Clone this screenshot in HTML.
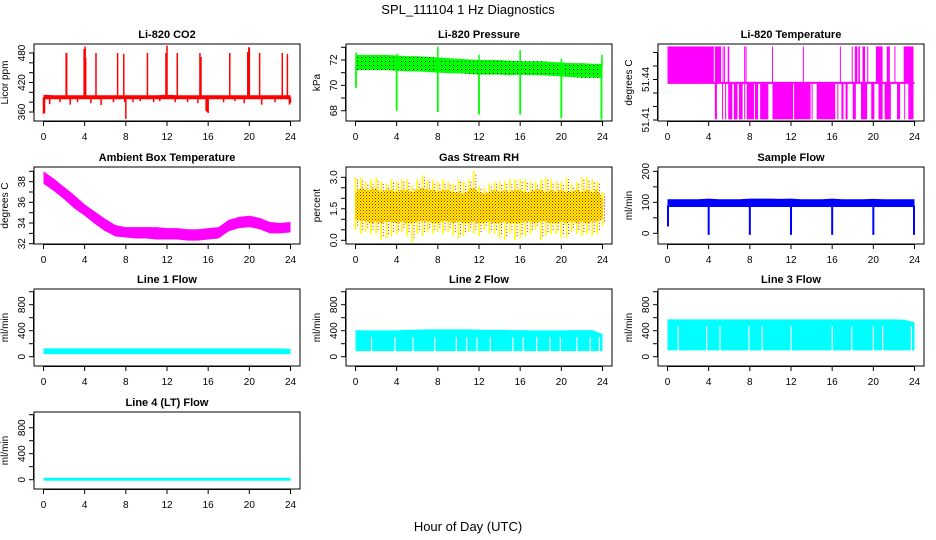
<!DOCTYPE html>
<html><head><meta charset="utf-8"><style>
html,body{margin:0;padding:0;background:#fff;}
svg{display:block;font-family:"Liberation Sans",Arial,sans-serif;}
</style></head><body>
<svg id="chart" width="936" height="540" viewBox="0 0 936 540" xmlns="http://www.w3.org/2000/svg">
<defs>
<pattern id="pdots" width="4" height="4" patternUnits="userSpaceOnUse"><rect width="4" height="4" fill="#00ff00"/><rect x="1" y="1" width="1" height="1" fill="#000"/></pattern>
<pattern id="rdots" width="3" height="3" patternUnits="userSpaceOnUse"><rect width="3" height="3" fill="#ffff00"/><rect x="0" y="0" width="1" height="1" fill="#ff0000"/><rect x="1.5" y="1.5" width="1" height="1" fill="#ff0000"/></pattern>
</defs>
<text x="468" y="14" text-anchor="middle" font-size="13">SPL_111104  1 Hz Diagnostics</text>
<text x="468" y="531" text-anchor="middle" font-size="13">Hour of Day (UTC)</text>
</svg>
<script>
// ---------- data ----------
const xTicks = [0,4,8,12,16,20,24];
const hours = [0,1,2,3,4,5,6,7,8,9,10,11,12,13,14,15,16,17,18,19,20,21,22,23,24];

const co2Lo = [386,386,386,386,386,386,386,386,386,386,386,386,386,386,386,386,386,386,386,386,386,386,386,386,386];
const co2Hi = [395,394,394,394,394,394,394,394,394,394,394,394,395,394,394,394,394,394,394,394,394,394,394,394,394];
const co2SpikeHours = [2.2,2.25,3.95,4.05,4.1,5.1,7.2,7.8,10.1,11.9,12.0,13.0,15.2,15.3,18.1,19.85,19.95,20.0,21.0,23.2,23.7];
const co2SpikeVals = [480,480,488,493,470,480,480,478,480,480,495,480,480,472,480,482,492,490,480,480,478];
const co2DipHours = [0.0,0.1,0.6,1.6,2.6,3.3,4.6,5.6,6.8,7.9,8.0,8.7,9.4,10.7,11.3,12.8,14.0,15.0,15.8,15.9,16.0,17.5,18.6,19.5,21.2,22.5,23.9,24.0];
const co2DipVals = [356,358,376,380,375,380,378,374,380,380,346,380,382,380,382,380,380,378,362,360,358,380,382,378,375,380,375,378];

const presHi = [72.4,72.4,72.4,72.4,72.35,72.3,72.3,72.25,72.2,72.15,72.1,72.05,72.0,72.0,72.0,71.95,71.9,71.9,71.9,71.85,71.8,71.75,71.75,71.7,71.7];
const presLo = [71.2,71.2,71.2,71.2,71.15,71.1,71.1,71.05,71.0,70.95,70.95,70.9,70.85,70.85,70.85,70.8,70.85,70.8,70.8,70.75,70.7,70.65,70.6,70.6,70.6];
const presDipHours = [0.05,4.0,8.0,12.0,16.0,20.0,23.9];
const presDipVals = [69.8,68.0,67.9,67.7,67.7,67.4,67.3];
const presUpHours = [0.05,4.05,8.0,12.0,16.0,20.0,23.95];
const presUpVals = [72.6,72.5,73.05,72.4,72.8,72.1,72.4];

const tempLevels = [51.4105,51.4375,51.4645];
const tempUpStart = [0.0,4.6,5.35,5.5,5.85,7.45,7.58,10.15,13.15,16.75,17.9,18.2,18.55,18.95,19.4,20.25,21.3,22.05,22.95];
const tempUpEnd   = [4.5,5.2,5.42,5.57,6.0,7.5,7.65,10.2,13.2,16.8,17.95,18.45,18.7,19.2,19.5,20.9,21.6,22.1,23.9];
const tempDnStart = [4.6,5.3,5.6,5.9,6.45,6.95,7.45,7.7,8.5,9.0,10.2,12.3,14.0,14.5,16.5,16.9,17.3,18.0,18.8,19.8,20.5,21.1,22.3,23.0,23.4];
const tempDnEnd   = [4.8,5.35,5.7,6.3,6.8,7.3,7.55,8.4,8.8,9.8,12.2,13.9,14.1,16.3,16.6,17.1,17.5,18.3,19.4,20.1,20.9,21.7,22.6,23.1,23.9];

const ambHi = [39.0,38.3,37.5,36.7,35.8,35.1,34.4,33.8,33.6,33.6,33.6,33.6,33.5,33.5,33.4,33.4,33.5,33.6,34.3,34.6,34.7,34.5,34.1,34.0,34.1];
const ambLo = [37.8,37.1,36.3,35.4,34.7,33.9,33.2,32.7,32.6,32.5,32.5,32.4,32.4,32.4,32.3,32.3,32.4,32.5,33.2,33.5,33.6,33.4,33.0,33.0,33.1];

const rhHours = [0,0.5,1,1.5,2,2.5,3,3.5,4,4.5,5,5.5,6,6.5,7,7.5,8,8.5,9,9.5,10,10.5,11,11.5,12,12.5,13,13.5,14,14.5,15,15.5,16,16.5,17,17.5,18,18.5,19,19.5,20,20.5,21,21.5,22,22.5,23,23.5,24];
const rhBodyHi = [2.3,2.5,2.4,2.4,2.5,2.3,2.4,2.4,2.3,2.4,2.4,2.3,2.4,2.5,2.4,2.4,2.3,2.4,2.4,2.3,2.3,2.2,2.4,2.5,2.3,2.2,2.3,2.4,2.3,2.4,2.3,2.4,2.4,2.3,2.3,2.4,2.4,2.3,2.4,2.3,2.4,2.3,2.3,2.4,2.3,2.4,2.3,2.4,2.0];
const rhBodyLo = [1.0,0.9,0.9,0.8,0.9,0.8,0.9,0.9,0.8,0.9,0.8,0.8,0.9,0.9,0.9,0.8,0.8,0.9,0.9,0.8,0.9,0.8,0.8,0.9,0.8,0.8,0.9,0.8,0.8,0.9,0.8,0.8,0.8,0.9,0.9,0.8,0.9,0.9,0.8,0.8,0.9,0.8,0.9,0.8,0.9,0.8,0.9,0.9,1.0];
const rhTop = [3.0,3.0,2.8,2.9,3.0,2.8,2.7,2.9,2.8,2.9,2.9,2.6,2.9,3.1,2.9,2.9,2.8,2.9,2.8,2.7,2.9,2.8,2.9,3.3,2.6,2.5,2.7,2.8,2.8,2.8,2.9,2.9,2.9,2.9,2.8,2.8,2.9,3.0,2.9,2.8,2.8,3.0,2.7,2.8,3.0,3.0,2.9,2.8,2.3];
const rhBot = [0.5,0.3,0.4,0.3,0.3,0.0,0.1,0.2,0.3,0.4,0.2,-0.1,0.3,0.2,0.4,0.3,0.4,0.3,0.4,0.2,0.1,0.2,0.4,0.3,0.2,0.5,0.3,0.3,0.1,0.0,0.3,0.0,0.1,0.2,0.3,0.5,0.0,0.2,0.3,0.3,0.1,0.1,0.4,0.3,0.2,0.3,0.2,0.3,0.7];

const sampHi = [110,110,110,110,112,110,110,110,112,112,112,111,112,110,110,110,112,110,110,110,111,110,110,110,110];
const sampLo = [85,85,85,85,85,85,85,85,85,85,85,85,85,85,85,85,85,85,85,85,85,85,85,85,85];
const sampDipHours = [0.05,4.0,8.0,12.0,16.0,20.0,23.95];
const sampDipVals = [22,-5,-5,-5,-5,-5,-5];

const l1Hi = [128,128,128,128,128,128,128,128,128,128,128,128,128,128,128,128,128,128,128,128,128,128,128,128,120];
const l1Lo = [40,40,40,40,40,40,40,40,40,40,40,40,40,40,40,40,40,40,40,40,40,40,40,40,40];
const l2Hi = [410,405,405,405,405,415,415,420,420,420,420,420,415,415,415,410,410,405,405,405,405,410,410,410,350];
const l2Lo = [86,86,86,86,86,86,86,86,86,86,86,86,86,86,86,86,86,86,86,86,86,86,86,86,86];
const l2GapHours = [1.56,3.83,5.6,7.7,9.8,10.8,11.8,13.1,15.3,16.3,17.6,18.9,19.9,21.5,22.8,23.7];
const l2GapTop = 300;
const l3Hi = [574,574,574,574,574,574,574,574,574,574,574,574,574,574,574,574,574,574,574,574,574,574,574,570,530];
const l3Lo = [97,97,97,97,97,97,97,97,97,97,97,97,97,97,97,97,97,97,97,97,97,97,97,97,97];
const l3GapHours = [1.04,3.8,5.1,7.9,9.2,12.0,16.0,17.9,20.0,20.9,23.7];
const l3GapTop = 470;
const l4Val = [8,8,8,8,8,8,8,8,8,8,8,8,8,8,8,8,8,8,8,8,8,8,8,8,8];

// ---------- layout ----------
const NS = 'http://www.w3.org/2000/svg';
const svg = document.getElementById('chart');
const colLeft = [34,346,658], rowTop = [44,167,289,412], PW = 266, PH = 77;
function mk(tag, attrs, parent){ const e=document.createElementNS(NS,tag); for(const k in attrs) e.setAttribute(k,attrs[k]); (parent||svg).appendChild(e); return e; }
const yLabelFmt = {rh:1, litemp:2};

function panel(name, title, col, row, ylim, yTicks, yLabels, ylab){
  const L=colLeft[col], T=rowTop[row];
  const g = mk('g',{});
  
  
  const xs = h => L + 9.5 + h*(247/24);
  const ys = v => T + PH - (v-ylim[0])/(ylim[1]-ylim[0])*PH;
  const plot = mk('g',{},g);
  
  
  const clip = mk('clipPath',{id:'c'+name},g);
  mk('rect',{x:L,y:T,width:PW,height:PH},clip);
  plot.setAttribute('clip-path','url(#c'+name+')');
  const box = mk('rect',{x:L,y:T,width:PW,height:PH,fill:'none',stroke:'#000','stroke-width':1},g);
  
  
  const t = mk('text',{x:L+PW/2,y:T-6,'text-anchor':'middle','font-size':11,'font-weight':'bold'},g);
  t.textContent = title;
  
  
  const xa = mk('g',{stroke:'#000','stroke-width':1},g);
  
  
  mk('line',{x1:xs(0),x2:xs(24),y1:T+PH+0.5,y2:T+PH+0.5},xa);
  xTicks.forEach(h=>{
    mk('line',{x1:xs(h),x2:xs(h),y1:T+PH,y2:T+PH+5},xa);
    const tl = mk('text',{x:xs(h),y:T+PH+19,'text-anchor':'middle','font-size':10,stroke:'none'},g);
    tl.textContent = h;
    
    
  });
  const ya = mk('g',{stroke:'#000','stroke-width':1},g);
  
  
  mk('line',{x1:L-0.5,x2:L-0.5,y1:ys(yTicks[0]),y2:ys(yTicks[yTicks.length-1])},ya);
  yTicks.forEach(v=>{ mk('line',{x1:L-5,x2:L,y1:ys(v),y2:ys(v)},ya); });
  yLabels.forEach(v=>{
    const y=ys(v), x=L-9;
    const tl = mk('text',{x:x,y:y,'text-anchor':'middle','font-size':10,transform:'rotate(-90 '+x+' '+y+')'},g);
    tl.textContent = yLabelFmt[name] ? v.toFixed(yLabelFmt[name]) : v;
    
    
  });
  const ax = L-26, ay = T+PH/2;
  const yl = mk('text',{x:ax,y:ay,'text-anchor':'middle','font-size':10,transform:'rotate(-90 '+ax+' '+ay+')'},g);
  yl.textContent = ylab;
  
  
  return {plot, xs, ys};
}

function band(p, hs, lo, hi, fill){
  let d='M'+hs.map((h,i)=>p.xs(h)+','+p.ys(hi[i])).join(' L');
  d+=' L'+hs.slice().reverse().map((h,j)=>{const i=hs.length-1-j; return p.xs(h)+','+p.ys(lo[i]);}).join(' L')+' Z';
  const e = mk('path',{d:d,fill:fill,stroke:'none'},p.plot);
  
  
  return e;
}
function vlines(p, hs, from, to, color, w){
  hs.forEach((h,i)=>{
    const f = Array.isArray(from)?from[i]:from;
    const e = mk('line',{x1:p.xs(h),x2:p.xs(h),y1:p.ys(f),y2:p.ys(to[i]),stroke:color,'stroke-width':w||1.5},p.plot);
    
    
  });
}

// CO2
(function(){
  const p = panel('co2','Li-820 CO2',0,0,[341.7,498.3],[360,380,400,420,440,460,480],[360,420,480],'Licor ppm');
  band(p,hours,co2Lo,co2Hi,'#ff0000');
  vlines(p,co2SpikeHours,390,co2SpikeVals,'#ff0000',1.5);
  vlines(p,co2DipHours,390,co2DipVals,'#ff0000',1.5);
})();
// Pressure
(function(){
  const p = panel('pressure','Li-820 Pressure',1,0,[67.19,73.26],[68,69,70,71,72,73],[68,70,72],'kPa');
  band(p,hours,presLo,presHi,'url(#pdots)');
  vlines(p,presDipHours,71.5,presDipVals,'#00ff00',1.8);
  vlines(p,presUpHours,71.5,presUpVals,'#00ff00',1.5);
})();
// Li-820 Temperature
(function(){
  const p = panel('litemp','Li-820 Temperature',2,0,[51.40926,51.4663],[51.41,51.42,51.43,51.44,51.45,51.46],[51.41,51.44],'degrees C');
  const c='#ff00ff';
  tempUpStart.forEach((s,i)=>{
    const x1=p.xs(s), x2=Math.max(p.xs(tempUpEnd[i]),x1+1);
    const e=mk('rect',{x:x1,y:p.ys(tempLevels[2]),width:x2-x1,height:p.ys(tempLevels[1])-p.ys(tempLevels[2]),fill:c},p.plot);
    
    
  });
  tempDnStart.forEach((s,i)=>{
    const x1=p.xs(s), x2=Math.max(p.xs(tempDnEnd[i]),x1+1);
    const e=mk('rect',{x:x1,y:p.ys(tempLevels[1]),width:x2-x1,height:p.ys(tempLevels[0])-p.ys(tempLevels[1]),fill:c},p.plot);
    
    
  });
  const e=mk('line',{x1:p.xs(0),x2:p.xs(24),y1:p.ys(tempLevels[1]),y2:p.ys(tempLevels[1]),stroke:c,'stroke-width':2},p.plot);
  
  
})();
// Ambient
(function(){
  const p = panel('ambient','Ambient Box Temperature',0,1,[31.97,39.42],[32,33,34,35,36,37,38,39],[32,34,36,38],'degrees C');
  band(p,hours,ambLo,ambHi,'#ff00ff');
})();
// RH
(function(){
  const p = panel('rh','Gas Stream RH',1,1,[-0.176,3.49],[0,0.5,1,1.5,2,2.5,3],[0,1.5,3],'percent');
  vlines(p,rhHours,rhBot,rhTop,'#ffff00',1.6);
  rhHours.forEach((h,i)=>{
    const e=mk('line',{x1:p.xs(h)+2,x2:p.xs(h)+2,y1:p.ys(rhBot[i]+0.2),y2:p.ys(rhTop[i]-0.1),stroke:'#ff0000','stroke-width':1,'stroke-dasharray':'1 2'},p.plot);
    
    
  });
  band(p,rhHours,rhBodyLo,rhBodyHi,'url(#rdots)');
})();
// Sample flow
(function(){
  const p = panel('sampleflow','Sample Flow',2,1,[-34.5,214],[0,50,100,150,200],[0,100,200],'ml/min');
  band(p,hours,sampLo,sampHi,'#0000ff');
  vlines(p,sampDipHours,90,sampDipVals,'#0000ff',2);
})();
// Line flows
function flow(name,title,col,row,lo,hi,gaps,gapTop){
  const p = panel(name,title,col,row,[-143,1042],[0,200,400,600,800,1000],[0,400,800],'ml/min');
  band(p,hours,lo,hi,'#00ffff');
  if(gaps){
    gaps.forEach(h=>{
      const e=mk('line',{x1:p.xs(h),x2:p.xs(h),y1:p.ys(80),y2:p.ys(gapTop),stroke:'#fff','stroke-width':1.2},p.plot);
      
      
    });
  }
  return p;
}
flow('line1','Line 1 Flow',0,2,l1Lo,l1Hi,null,0);
flow('line2','Line 2 Flow',1,2,l2Lo,l2Hi,l2GapHours,l2GapTop);
flow('line3','Line 3 Flow',2,2,l3Lo,l3Hi,l3GapHours,l3GapTop);
(function(){
  const p = panel('line4','Line 4 (LT) Flow',0,3,[-143,1042],[0,200,400,600,800,1000],[0,400,800],'ml/min');
  const d='M'+hours.map((h,i)=>p.xs(h)+','+p.ys(l4Val[i])).join(' L');
  const e=mk('path',{d:d,fill:'none',stroke:'#00ffff','stroke-width':3},p.plot);
  
  
})();
</script>
</body></html>
